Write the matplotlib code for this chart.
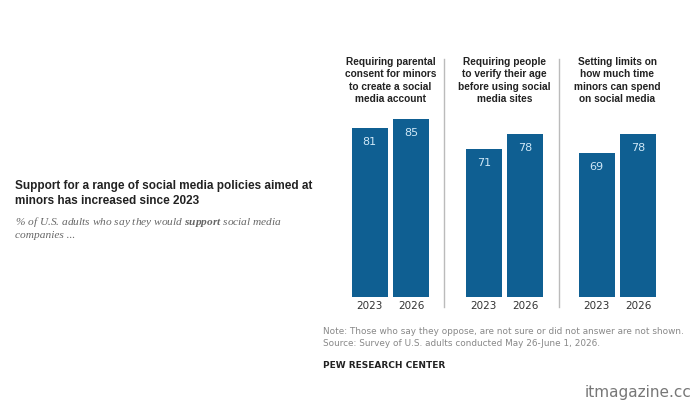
import matplotlib
matplotlib.use("Agg")
import matplotlib.pyplot as plt
from matplotlib.lines import Line2D
from matplotlib import font_manager

# ---------------------------------------------------------------------------
# Data
# ---------------------------------------------------------------------------
years = ["2023", "2026"]
policies = [
    "Requiring parental\nconsent for minors\nto create a social\nmedia account",
    "Requiring people\nto verify their age\nbefore using social\nmedia sites",
    "Setting limits on\nhow much time\nminors can spend\non social media",
]
support = [
    [81, 85],
    [71, 78],
    [69, 78],
]

BAR_COL = "#0f5f92"
LABEL_COL = "#cfe8f7"
W, H = 700, 420

names = {f.name for f in font_manager.fontManager.ttflist}
NARROW = ["Liberation Sans Narrow", "DejaVu Sans"] if "Liberation Sans Narrow" in names \
    else ["Liberation Sans", "DejaVu Sans"]

plt.rcParams["mathtext.fontset"] = "custom"
plt.rcParams["mathtext.bf"] = "Liberation Serif:italic:bold"

fig = plt.figure(figsize=(7, 4.2), dpi=100)
fig.patch.set_facecolor("white")


def fx(px):
    return px / W


def fy(py):
    return 1 - py / H


# panel axes: left edge in pixels, bars at 0 and 1
panel_left = [349, 463, 576]
unit = 41.5
for i, left in enumerate(panel_left):
    ax = fig.add_axes([fx(left), fy(297), fx(2 * unit), (297 - 88) / H])
    ax.bar(range(len(years)), support[i], width=0.87, color=BAR_COL)
    for x, v in enumerate(support[i]):
        ax.annotate(str(v), (x, v), xytext=(0, -9), textcoords="offset pixels",
                    ha="center", va="top", fontsize=8, color=LABEL_COL,
                    family="DejaVu Sans")
    ax.set_xlim(-0.5, 1.5)
    ax.set_ylim(0, 100)
    ax.set_xticks(range(len(years)))
    ax.set_xticklabels(years, fontsize=7.5, color="#333333")
    ax.tick_params(axis="x", length=0, pad=3)
    ax.set_yticks([])
    for s in ax.spines.values():
        s.set_visible(False)
    fig.text(fx(left + unit), fy(57), policies[i], ha="center", va="top",
             fontsize=7.3, fontweight="bold", color="#222222", linespacing=1.3,
             family=NARROW)

# separators between panels
for xs in [444, 559]:
    fig.add_artist(Line2D([fx(xs), fx(xs)], [fy(59), fy(307)],
                          color="#bbbbbb", lw=1))

# title and subtitle
fig.text(fx(15), fy(180), "Support for a range of social media policies aimed at\n"
         "minors has increased since 2023", ha="left", va="top", fontsize=8.5,
         fontweight="bold", color="#222222", linespacing=1.35, family=NARROW)
fig.text(fx(15), fy(215), "% of U.S. adults who say they would $\\bf{support}$ social media",
         ha="left", va="top", fontsize=8.2, style="italic", color="#666666",
         family="Liberation Serif")
fig.text(fx(15), fy(231), "companies ...", ha="left", va="top", fontsize=8.2,
         style="italic", color="#666666", family="Liberation Serif")

# notes
fig.text(fx(323), fy(327), "Note: Those who say they oppose, are not sure or did not answer are not shown.\n"
         "Source: Survey of U.S. adults conducted May 26-June 1, 2026.",
         ha="left", va="top", fontsize=6.4, color="#888888", linespacing=1.45)
fig.text(fx(323), fy(361), "PEW RESEARCH CENTER", ha="left", va="top",
         fontsize=6.5, fontweight="bold", color="#222222")
fig.text(fx(692), fy(392), "itmagazine.cc", ha="right", va="center",
         fontsize=11, color="#777777")

fig.savefig("out.png", dpi=100)
